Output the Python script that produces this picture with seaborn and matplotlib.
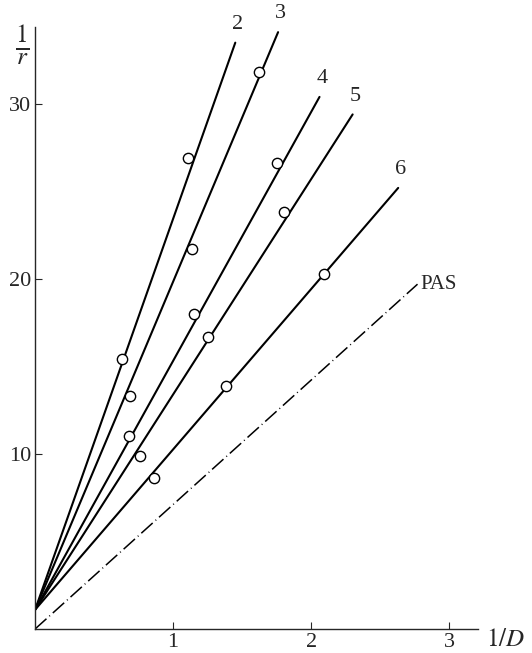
import numpy as np
import pandas as pd
import matplotlib
matplotlib.use("Agg")
import matplotlib.pyplot as plt
import seaborn as sns

# ==========================================
# Data
# ==========================================

line_names = ["2", "3", "4", "5", "6"]
line_intercept = [1.1, 1.1, 1.1, 1.1, 1.1]
line_end_x = [1.45, 1.76, 2.06, 2.30, 2.63]
line_end_y = [33.5, 34.1, 30.4, 29.4, 25.2]

pas_x = [0.0, 2.77]
pas_y = [0.0, 19.7]

point_x = [0.63, 1.11, 0.69, 1.14, 1.62, 0.68, 1.15, 1.75,
           0.76, 1.25, 1.80, 0.86, 1.38, 2.09]
point_y = [15.4, 26.9, 13.3, 21.7, 31.8, 11.0, 18.0, 26.6,
           9.9, 16.7, 23.8, 8.6, 13.9, 20.3]

x_ticks = [1, 2, 3]
y_ticks = [10, 20, 30]

# ==========================================
# Build tables
# ==========================================

rows = []
for name, b, xe, ye in zip(line_names, line_intercept, line_end_x, line_end_y):
    rows.append({"line": name, "x": 0.0, "y": b})
    rows.append({"line": name, "x": xe, "y": ye})
lines_df = pd.DataFrame(rows)
pas_df = pd.DataFrame({"x": pas_x, "y": pas_y})
points_df = pd.DataFrame({"x": point_x, "y": point_y})

# ==========================================
# Plot
# ==========================================

sns.set_style("ticks")
plt.rcParams["font.family"] = ["Liberation Serif", "DejaVu Serif"]
plt.rcParams["mathtext.fontset"] = "stix"

fig = plt.figure(figsize=(5.32, 6.53), dpi=100)
ax = fig.add_axes([0.066, 0.0368, 0.833, 0.922])

sns.lineplot(data=lines_df, x="x", y="y", units="line", estimator=None,
             color="black", linewidth=1.5, ax=ax)
sns.lineplot(data=pas_df, x="x", y="y", color="black", linewidth=1.1,
             dashes=False, ax=ax)
ax.lines[-1].set_dashes([10, 2.5, 0.6, 2.5])
sns.scatterplot(data=points_df, x="x", y="y", marker="o", s=55,
                facecolor="white", edgecolor="black", linewidth=1.0,
                zorder=5, ax=ax)

# line labels
for name, xe, ye in zip(line_names, line_end_x, line_end_y):
    ax.text(xe + 0.02, ye + 0.5, name, fontsize=16, ha="center", va="bottom")
ax.text(pas_x[1] + 0.02, pas_y[1], "PAS", fontsize=15, ha="left", va="center")

ax.set_xlim(0, 3.21)
ax.set_ylim(0, 34.4)
ax.set_xticks(x_ticks)
ax.set_yticks(y_ticks)
ax.tick_params(direction="in", length=5, width=0.8, labelsize=16, pad=3)
ax.set_xlabel("")
ax.set_ylabel("")
sns.despine(ax=ax)
for s in ["left", "bottom"]:
    ax.spines[s].set_linewidth(1.0)

fig.text(505 / 532, 1 - 640 / 653, "$1/D$", fontsize=18, ha="center", va="center")
fig.text(22 / 532, 1 - 45 / 653, r"$\frac{1}{r}$", fontsize=26, ha="center", va="center")

plt.savefig("out.png", dpi=100)
